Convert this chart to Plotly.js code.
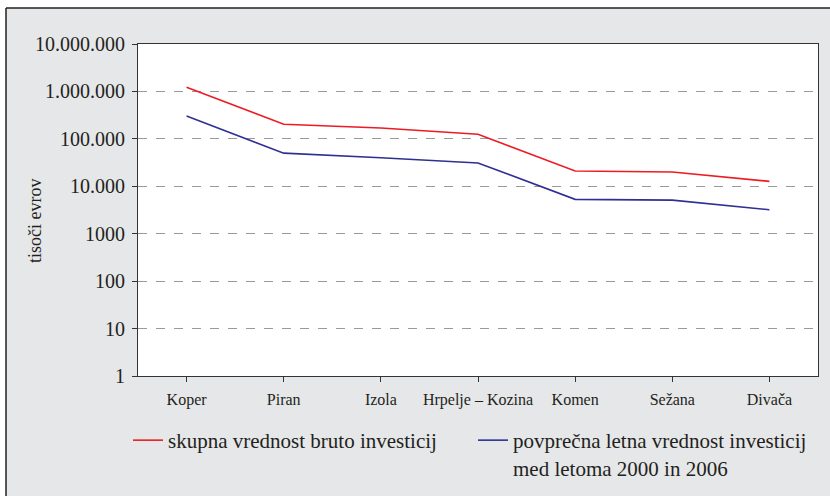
<!DOCTYPE html>
<html>
<head>
<meta charset="utf-8">
<script src="https://cdn.plot.ly/plotly-3.0.1.min.js"></script>
<style>html,body{margin:0;padding:0;background:#fff}#chart{width:830px;height:496px}</style>
</head>
<body>
<div id="chart"></div>
<script>
const categories = ["Koper", "Piran", "Izola", "Hrpelje – Kozina", "Komen", "Sežana", "Divača"];
const totalInvestment = [1230000, 203000, 170000, 125000, 21000, 20000, 12700];
const annualAverage = [303000, 50000, 40000, 31000, 5300, 5100, 3200];
const tickValues = [1, 10, 100, 1000, 10000, 100000, 1000000, 10000000];
const tickLabels = ["1", "10", "100", "1000", "10.000", "100.000", "1.000.000", "10.000.000"];
const seriesNames = ["skupna vrednost bruto investicij", "povprečna letna vrednost investicij<br>med letoma 2000 in 2006"];
const yTitle = "tisoči evrov";

const serif = "Liberation Serif";
const L = 138, R = 12, T = 44, B = 120, W = 830, H = 496;
const pw = W - L - R, ph = H - T - B;
const px = x => (x - L) / pw;
const py = y => (H - B - y) / ph;

const traces = [
  {x: categories, y: totalInvestment, name: seriesNames[0], type: "scatter", mode: "lines",
   line: {color: "#ed1c24", width: 1.6}},
  {x: categories, y: annualAverage, name: seriesNames[1], type: "scatter", mode: "lines",
   line: {color: "#2e3192", width: 1.6}}
];

const layout = {
  width: W, height: H,
  margin: {l: L, r: R, t: T, b: B, autoexpand: false},
  paper_bgcolor: "#e6e7e8",
  plot_bgcolor: "#ffffff",
  font: {family: serif, color: "#231f20"},
  showlegend: true,
  legend: {
    orientation: "h", x: px(128), xanchor: "left", y: py(420), yanchor: "top",
    bgcolor: "rgba(0,0,0,0)", font: {family: serif, size: 21, color: "#231f20"},
    entrywidth: 300, entrywidthmode: "pixels", traceorder: "normal", valign: "top"
  },
  xaxis: {
    type: "category", range: [-0.5, 6.5], showline: true, linecolor: "#333", linewidth: 1, mirror: true,
    ticks: "outside", ticklen: 5, tickcolor: "#333", showgrid: false,
    tickfont: {family: serif, size: 16, color: "#231f20"}, ticklabelstandoff: 4,
    fixedrange: true, automargin: false
  },
  yaxis: {
    type: "log", range: [0, 7], showline: true, linecolor: "#333", linewidth: 1, mirror: true,
    ticks: "outside", ticklen: 5, tickcolor: "#333",
    tickvals: tickValues, ticktext: tickLabels,
    showgrid: true, gridcolor: "#9a9a9a", griddash: "dash", gridwidth: 1,
    tickfont: {family: serif, size: 20, color: "#231f20"}, ticklabelstandoff: 3,
    zeroline: false, fixedrange: true, automargin: false
  },
  annotations: [
    {text: yTitle, xref: "paper", yref: "paper", x: px(35), y: py(221), xanchor: "center", yanchor: "middle",
     textangle: -90, showarrow: false, font: {family: serif, size: 18, color: "#231f20"}}
  ],
  shapes: [
    {type: "rect", xref: "paper", yref: "paper", x0: px(-5), x1: px(840), y0: py(8), y1: py(-5),
     fillcolor: "#ffffff", line: {width: 0}},
    {type: "rect", xref: "paper", yref: "paper", x0: px(-5), x1: px(6), y0: py(520), y1: py(8),
     fillcolor: "#ffffff", line: {width: 0}},
    {type: "line", xref: "paper", yref: "paper", x0: px(6), x1: px(840), y0: py(8), y1: py(8),
     line: {color: "#231f20", width: 1.5}},
    {type: "line", xref: "paper", yref: "paper", x0: px(6), x1: px(6), y0: py(8), y1: py(520),
     line: {color: "#231f20", width: 1.5}}
  ]
};

Plotly.newPlot("chart", traces, layout, {displayModeBar: false, staticPlot: true});
</script>
</body>
</html>
